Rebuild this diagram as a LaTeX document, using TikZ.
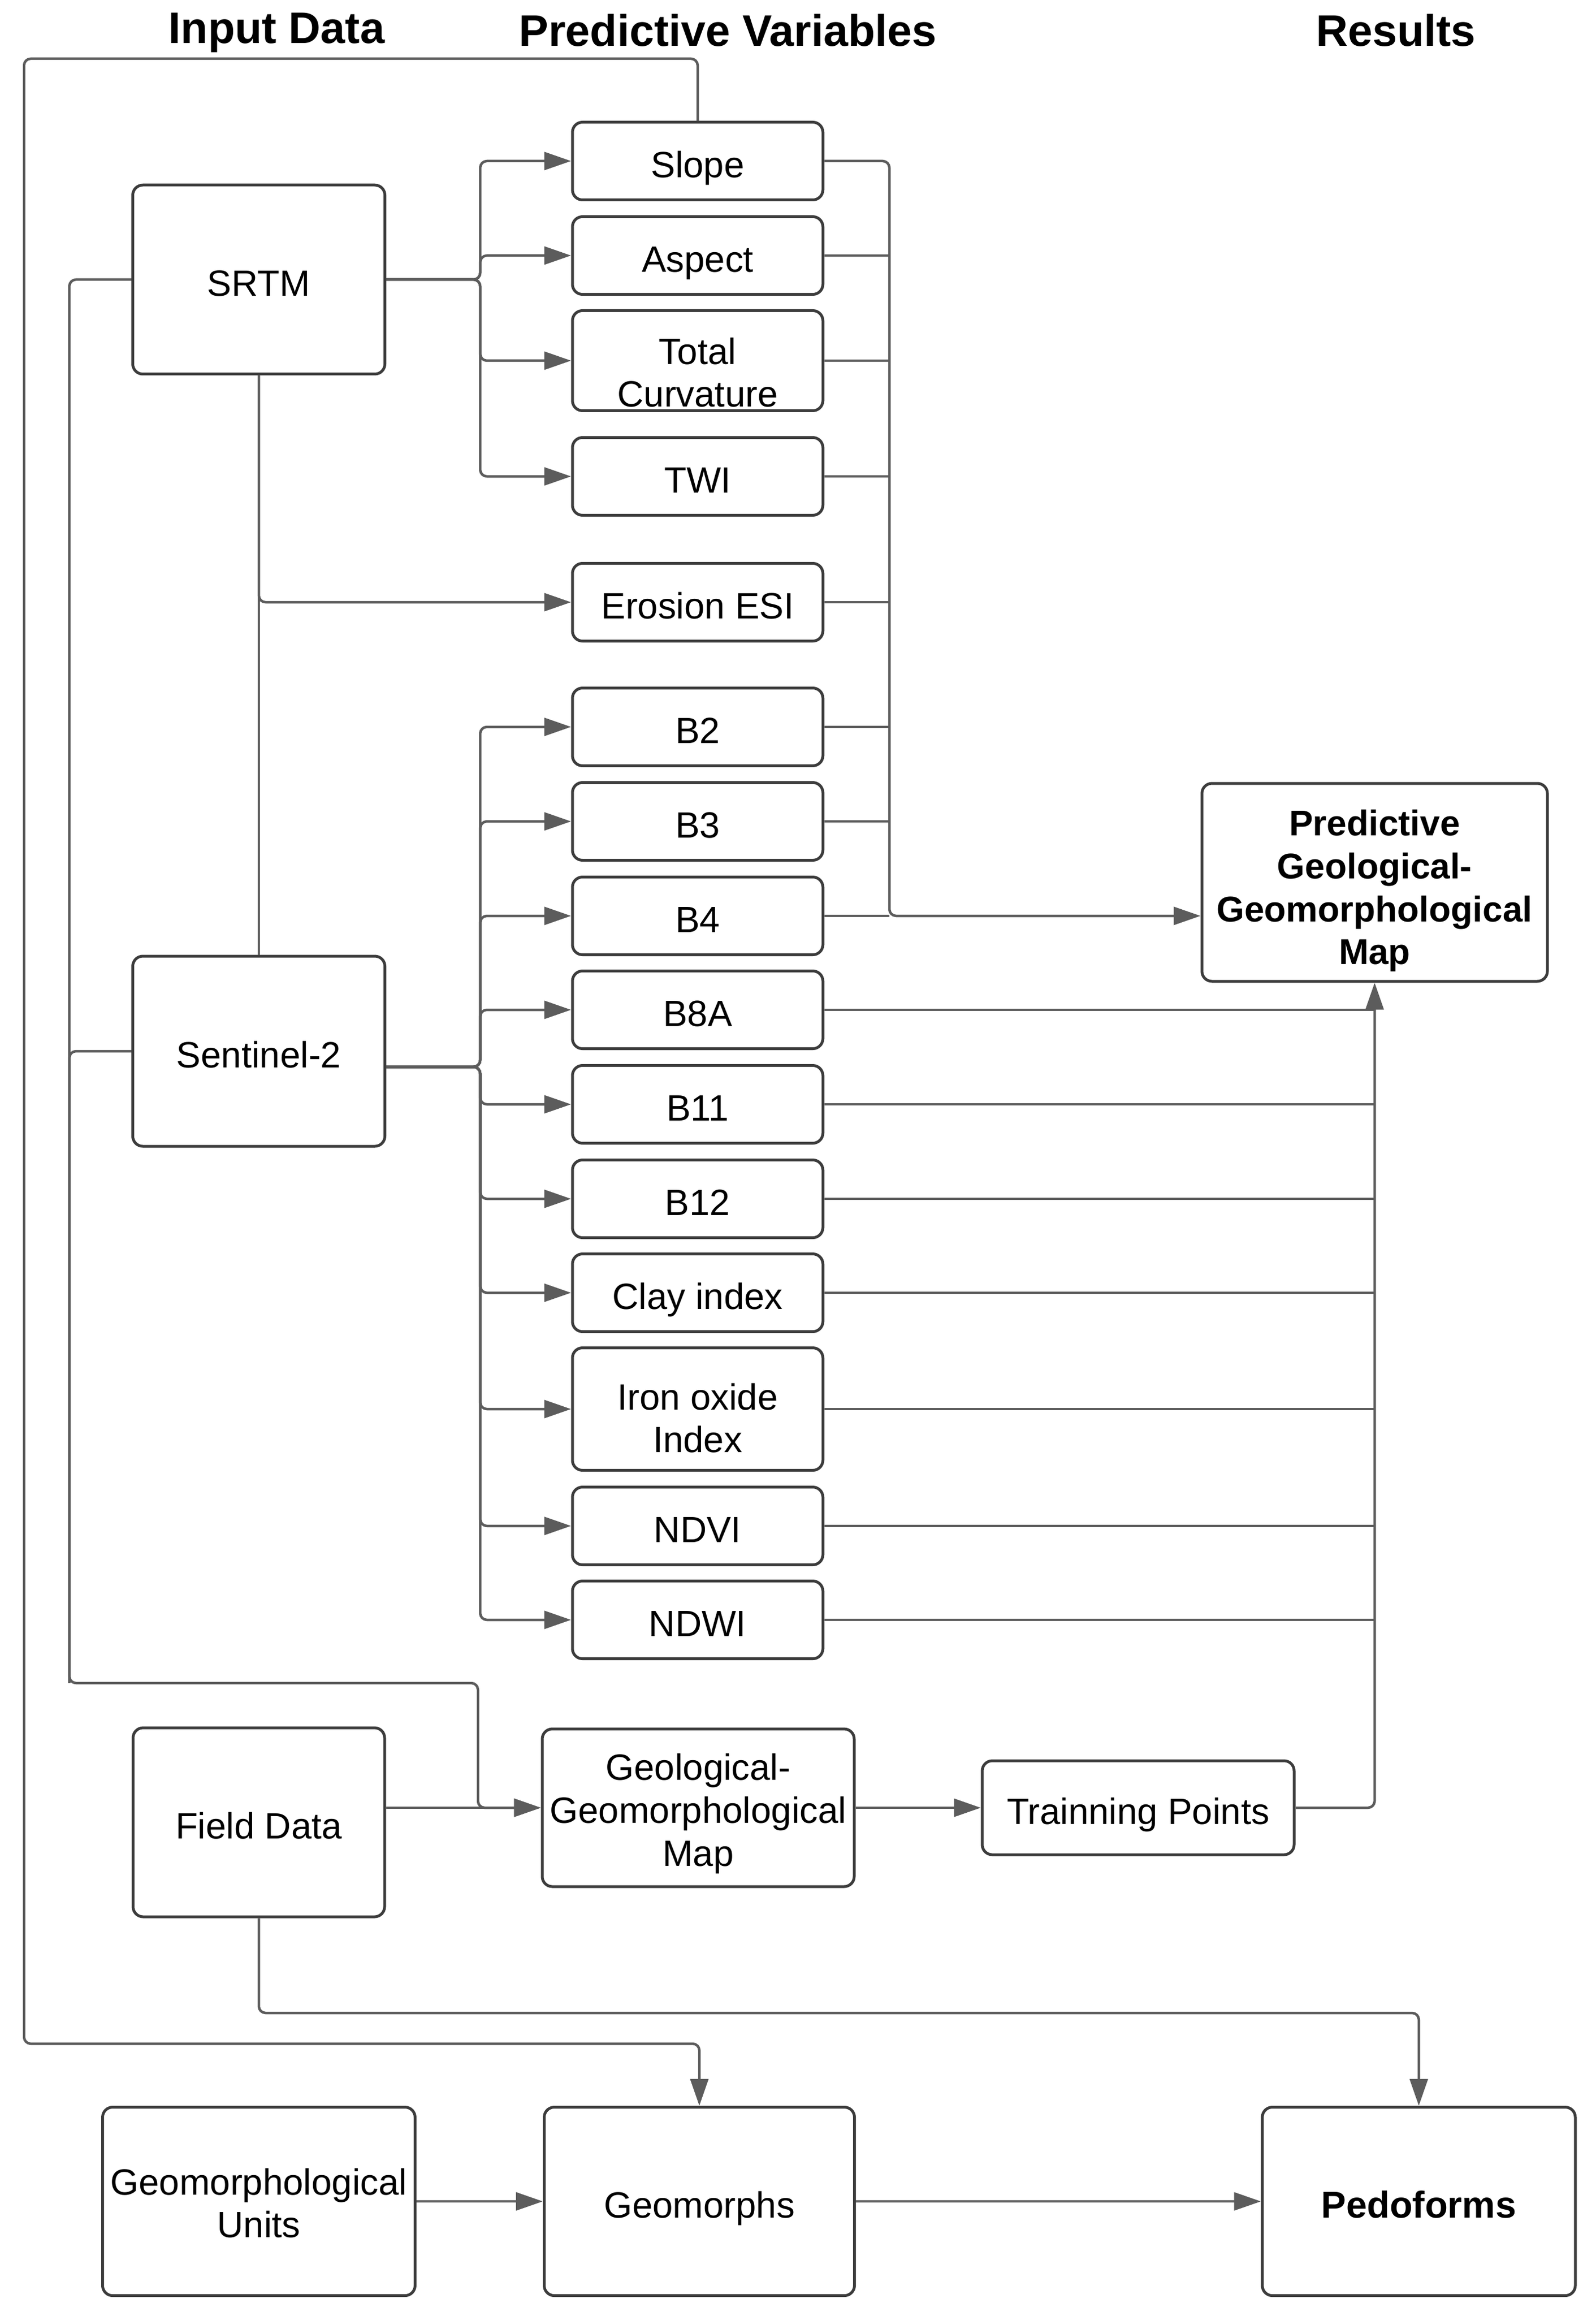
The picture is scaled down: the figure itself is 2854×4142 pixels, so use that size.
\documentclass[tikz,border=0pt]{standalone}
\usepackage{fontspec}
\setmainfont{Liberation Sans}
\usetikzlibrary{arrows.meta}
\definecolor{boxgray}{HTML}{3C3C3C}
\definecolor{linegray}{HTML}{5C5C5C}
\newcommand{\boxstrut}{\rule[-4.5pt]{0pt}{26pt}}

\begin{document}
\begin{tikzpicture}[x=0.1mm,y=-0.1mm,
  box/.style={draw=boxgray, line width=0.5mm, rounded corners=1.8mm, align=center,
    inner xsep=0pt, inner ysep=0pt, execute at begin node=\boxstrut,
    font=\fontsize{18.6pt}{21.8pt}\selectfont},
  var/.style={box, minimum width=44.8mm, minimum height=13.9mm},
  multi/.style={text height=#1, text depth=0pt},
  head/.style={anchor=base, font=\fontsize{22.5pt}{26pt}\selectfont\bfseries},
  line/.style={draw=linegray, line width=0.45mm, rounded corners=1.2mm},
  arr/.style={line, -{Triangle[length=4.8mm,width=3.2mm]}}]
\fill[white] (0,0) rectangle (2854,4142);
\useasboundingbox (0,0) rectangle (2854,4142);

% column titles
\node[head] (tin) at (495,78) {Input Data};
\node[head] (tpv) at (1302,83) {Predictive Variables};
\node[head] (tres) at (2497,83) {Results};

% input data
\node[box, minimum width=45.1mm, minimum height=33.8mm] (srtm) at (463,500) {SRTM};
\node[box, minimum width=45.1mm, minimum height=34mm] (sent) at (463,1880) {Sentinel-2};
\node[box, minimum width=45mm, minimum height=33.8mm] (field) at (463,3259) {Field Data};
\node[box, minimum width=55.9mm, minimum height=33.7mm, multi=36.9pt] (units) at (463,3937) {Geomorphological\\Units};

% predictive variables
\node[var] (slope) at (1248,288) {Slope};
\node[var] (aspect) at (1248,457) {Aspect};
\node[var, minimum height=17.9mm, multi=47.1pt] (curv) at (1248,645) {Total\\Curvature};
\node[var] (twi) at (1248,852) {TWI};
\node[var] (esi) at (1248,1077) {Erosion ESI};
\node[var] (b2) at (1248,1300) {B2};
\node[var] (b3) at (1248,1469) {B3};
\node[var] (b4) at (1248,1638) {B4};
\node[var] (b8a) at (1248,1806) {B8A};
\node[var] (b11) at (1248,1975) {B11};
\node[var] (b12) at (1248,2144) {B12};
\node[var] (clay) at (1248,2312) {Clay index};
\node[var, minimum height=21.9mm, multi=44.2pt] (iron) at (1248,2520) {Iron oxide\\Index};
\node[var] (ndvi) at (1248,2729) {NDVI};
\node[var] (ndwi) at (1248,2897) {NDWI};
\node[box, minimum width=55.8mm, minimum height=28.2mm, multi=59.2pt] (ggm) at (1249,3233) {Geological-\\Geomorphological\\Map};
\node[box, minimum width=55.8mm, minimum height=16.8mm] (train) at (2036,3233) {Trainning Points};
\node[box, minimum width=55.5mm, minimum height=33.7mm] (morphs) at (1251,3937) {Geomorphs};

% results
\node[box, minimum width=61.8mm, minimum height=35.4mm, multi=83.5pt,
  font=\fontsize{18.2pt}{21.8pt}\selectfont\bfseries] (pmap) at (2459,1578)
  {Predictive\\Geological-\\Geomorphological\\Map};
\node[box, minimum width=56mm, minimum height=33.7mm,
  font=\fontsize{19pt}{22pt}\selectfont\bfseries] (pedo) at (2538,3937) {Pedoforms};

% bends of the connectors
\coordinate (sjoin) at (859,500);
\coordinate (sout) at ([yshift=-2.8mm]sent.east);
\coordinate (njoin) at (859,1908);
\coordinate (rjoin) at (1591,1638);
\coordinate (lbend) at (124,3010);
\coordinate (lturn) at (855,3010);
\coordinate (ltop) at (43,105);
\coordinate (lbot) at (43,3655);
\coordinate (fturn) at (463,3600);

% SRTM
\path[arr] (srtm.east) -- (sjoin) |- (slope.west);
\path[arr] (srtm.east) -- (sjoin) |- (aspect.west);
\path[arr] (srtm.east) -- (sjoin) |- (curv.west);
\path[arr] (srtm.east) -- (sjoin) |- (twi.west);
\path[arr] (srtm.south) |- (esi.west);
\path[line] (sent.north) -- (srtm.south);

% Sentinel-2
\path[arr] (sout) -- (njoin) |- (b2.west);
\path[arr] (sout) -- (njoin) |- (b3.west);
\path[arr] (sout) -- (njoin) |- (b4.west);
\path[arr] (sout) -- (njoin) |- (b8a.west);
\path[arr] (sout) -- (njoin) |- (b11.west);
\path[arr] (sout) -- (njoin) |- (b12.west);
\path[arr] (sout) -- (njoin) |- (clay.west);
\path[arr] (sout) -- (njoin) |- (iron.west);
\path[arr] (sout) -- (njoin) |- (ndvi.west);
\path[arr] (sout) -- (njoin) |- (ndwi.west);

% both sources to the map
\path[arr] (srtm.west) -| (lbend) -- (lturn) |- (ggm.west);
\path[line] (sent.west) -| (lbend);
\path[arr] (field.east |- ggm.west) -- (ggm.west);
\path[arr] (ggm.east) -- (train.west);
\path[arr] (train.east) -| (pmap.south);

% variables to the predictive map
\path[arr] (slope.east) -| (rjoin) -- (b4.east -| pmap.west);
\path[line] (aspect.east) -- (aspect.east -| rjoin);
\path[line] (curv.east) -- (curv.east -| rjoin);
\path[line] (twi.east) -- (twi.east -| rjoin);
\path[line] (esi.east) -- (esi.east -| rjoin);
\path[line] (b2.east) -- (b2.east -| rjoin);
\path[line] (b3.east) -- (b3.east -| rjoin);
\path[line] (b4.east) -- (rjoin);
\path[line] (b8a.east) -- (b8a.east -| pmap.south);
\path[line] (b11.east) -- (b11.east -| pmap.south);
\path[line] (b12.east) -- (b12.east -| pmap.south);
\path[line] (clay.east) -- (clay.east -| pmap.south);
\path[line] (iron.east) -- (iron.east -| pmap.south);
\path[line] (ndvi.east) -- (ndvi.east -| pmap.south);
\path[line] (ndwi.east) -- (ndwi.east -| pmap.south);

% bottom row
\path[arr] (slope.north) |- (ltop) -- (lbot) -| (morphs.north);
\path[arr] (field.south) -- (fturn) -| (pedo.north);
\path[arr] (units.east) -- (morphs.west);
\path[arr] (morphs.east) -- (pedo.west);
\end{tikzpicture}
\end{document}
